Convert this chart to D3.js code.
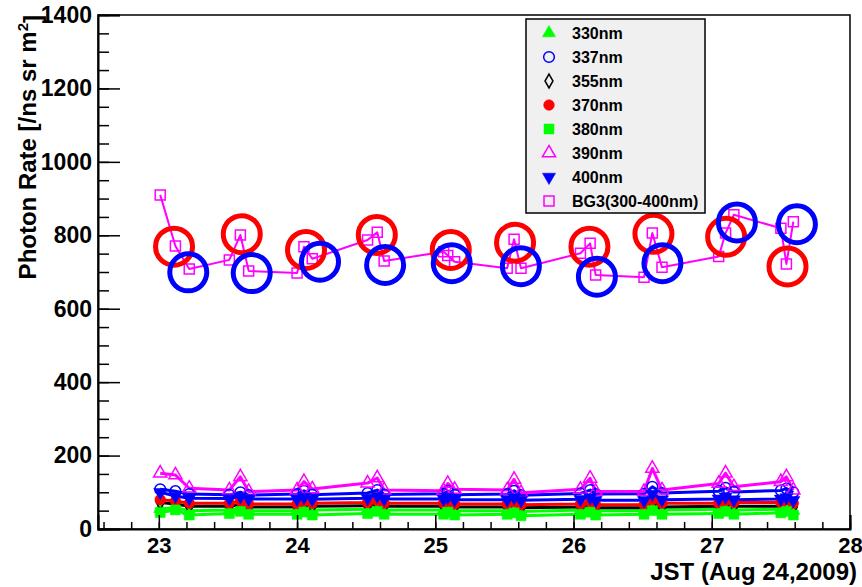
<!DOCTYPE html>
<html>
<head>
<meta charset="utf-8">
<script src="https://cdn.jsdelivr.net/npm/d3@7"></script>
<style>
  body { margin: 0; background: #fff; }
  text { font-family: "Liberation Sans", Arial, Helvetica, sans-serif; font-weight: bold; }
</style>
</head>
<body>
<div id="vis"></div>
<script>
const FRAME_WIDTH = 862;
const FRAME_HEIGHT = 587;
const MARGINS = {left: 98, right: 12, top: 15, bottom: 58};

const VIS_WIDTH = FRAME_WIDTH - MARGINS.left - MARGINS.right;
const VIS_HEIGHT = FRAME_HEIGHT - MARGINS.top - MARGINS.bottom;

// measurement times (hours JST)
const TIMES = [23.01, 23.12, 23.22, 23.51, 23.59, 23.65, 24.00, 24.05, 24.11, 24.51, 24.58, 24.63,
               25.06, 25.09, 25.14, 25.52, 25.57, 25.62, 26.05, 26.12, 26.16, 26.51, 26.57, 26.64,
               27.05, 27.10, 27.16, 27.50, 27.54, 27.59];

// photon rates for each filter
const NM330 = [55, 58, 50, 52, 56, 50, 50, 56, 52, 54, 58, 52, 52, 56, 50, 50, 54, 48, 52, 56, 50, 50, 62, 52, 54, 58, 52, 54, 58, 50];
const NM337 = [108, 103, 95, 93, 100, 92, 95, 104, 93, 98, 106, 94, 96, 103, 93, 95, 104, 92, 97, 106, 95, 96, 115, 98, 103, 112, 101, 105, 110, 100];
const NM355 = [72, 68, 62, 62, 66, 60, 60, 66, 62, 63, 68, 62, 62, 66, 60, 60, 64, 58, 60, 64, 58, 58, 70, 60, 62, 68, 62, 62, 68, 60];
const NM370 = [80, 76, 70, 70, 76, 68, 68, 76, 70, 72, 78, 70, 70, 76, 68, 68, 74, 66, 68, 74, 66, 66, 80, 70, 70, 78, 72, 72, 80, 70];
const NM380 = [45, 52, 38, 42, 48, 40, 40, 46, 38, 42, 48, 40, 40, 46, 38, 40, 44, 36, 40, 46, 38, 40, 50, 40, 42, 48, 40, 44, 48, 38];
const NM390 = [152, 147, 111, 106, 142, 102, 106, 129, 109, 125, 139, 106, 104, 124, 108, 106, 135, 99, 108, 138, 102, 102, 165, 106, 124, 152, 115, 129, 142, 106];
const NM400 = [100, 90, 84, 83, 88, 82, 82, 87, 81, 84, 90, 82, 82, 87, 80, 80, 86, 78, 81, 86, 78, 78, 95, 80, 82, 88, 80, 82, 86, 78];
const BG3 = [910, 771, 708, 733, 801, 703, 697, 769, 736, 787, 808, 730, 755, 745, 728,
             710, 789, 710, 751, 778, 692, 686, 806, 713, 742, 806, 856, 819, 722, 837];

// hand-drawn highlight circles (centres in data units)
const RED_X = [23.11, 23.60, 24.065, 24.577, 25.112, 25.577, 26.115, 26.578, 27.104, 27.548];
const RED_Y = [769, 803, 760, 801, 760, 780, 769, 804, 796, 715];
const BLUE_X = [23.213, 23.672, 24.166, 24.637, 25.119, 25.619, 26.169, 26.643, 27.182, 27.616];
const BLUE_Y = [699, 697, 728, 719, 724, 716, 687, 724, 835, 830];

const SERIES = [
  {name: "330nm", values: NM330, color: "#00ff00", shape: "triUp", open: false, lw: 3},
  {name: "337nm", values: NM337, color: "#0000ff", shape: "circle", open: true, lw: 3},
  {name: "355nm", values: NM355, color: "#000000", shape: "diamond", open: true, lw: 3},
  {name: "370nm", values: NM370, color: "#ff0000", shape: "circle", open: false, lw: 3},
  {name: "380nm", values: NM380, color: "#00ff00", shape: "square", open: false, lw: 3},
  {name: "390nm", values: NM390, color: "#ff00ff", shape: "triUp", open: true, lw: 3},
  {name: "400nm", values: NM400, color: "#0000ff", shape: "triDown", open: false, lw: 3},
  {name: "BG3(300-400nm)", values: BG3, color: "#ff00ff", shape: "square", open: true, lw: 2}
];

const SVG = d3.select("#vis")
  .append("svg")
    .attr("width", FRAME_WIDTH)
    .attr("height", FRAME_HEIGHT);

const X_SCALE = d3.scaleLinear()
  .domain([22.56, 28.0])
  .range([MARGINS.left, MARGINS.left + VIS_WIDTH]);

const Y_SCALE = d3.scaleLinear()
  .domain([0, 1400])
  .range([MARGINS.top + VIS_HEIGHT, MARGINS.top]);

function symbolPath(shape) {
  if (shape == "circle") return d3.symbol(d3.symbolCircle, 90)();
  if (shape == "square") return d3.symbol(d3.symbolSquare, 100)();
  if (shape == "diamond") return d3.symbol(d3.symbolDiamond, 55)();
  return d3.symbol(d3.symbolTriangle, 75)();
}

function drawMarker(g, s, x, y) {
  g.append("path")
    .attr("d", symbolPath(s.shape))
    .attr("transform", "translate(" + x + "," + y + ")" + (s.shape == "triDown" ? " rotate(180)" : ""))
    .attr("fill", s.open ? "none" : s.color)
    .attr("stroke", s.color)
    .attr("stroke-width", s.open ? 1.5 : 0.5);
}

// series lines and markers
const line = d3.line()
  .x((d, i) => X_SCALE(TIMES[i]))
  .y(d => Y_SCALE(d));

SERIES.forEach(s => {
  SVG.append("path")
    .datum(s.values)
    .attr("d", line)
    .attr("fill", "none")
    .attr("stroke", s.color)
    .attr("stroke-width", s.lw)
    .attr("stroke-linejoin", "round");
});

SERIES.forEach(s => {
  const g = SVG.append("g");
  s.values.forEach((v, i) => drawMarker(g, s, X_SCALE(TIMES[i]), Y_SCALE(v)));
});

// highlight circles
SVG.selectAll(".redc")
  .data(RED_X)
  .enter()
  .append("circle")
    .attr("cx", d => X_SCALE(d))
    .attr("cy", (d, i) => Y_SCALE(RED_Y[i]))
    .attr("r", 18.5)
    .attr("fill", "none")
    .attr("stroke", "#ff0000")
    .attr("stroke-width", 5);

SVG.selectAll(".bluec")
  .data(BLUE_X)
  .enter()
  .append("circle")
    .attr("cx", d => X_SCALE(d))
    .attr("cy", (d, i) => Y_SCALE(BLUE_Y[i]))
    .attr("r", 18.5)
    .attr("fill", "none")
    .attr("stroke", "#0000ff")
    .attr("stroke-width", 5);

// frame
SVG.append("rect")
  .attr("x", MARGINS.left)
  .attr("y", MARGINS.top)
  .attr("width", VIS_WIDTH)
  .attr("height", VIS_HEIGHT)
  .attr("fill", "none")
  .attr("stroke", "#000")
  .attr("stroke-width", 1.5);

// axes: major + minor ticks drawn inward
const xMinor = d3.range(22.6, 28.001, 0.2);
SVG.append("g")
  .attr("transform", "translate(0," + (MARGINS.top + VIS_HEIGHT) + ")")
  .call(d3.axisBottom(X_SCALE).tickValues(xMinor).tickSize(-7).tickFormat(""))
  .call(g => g.select(".domain").remove());

SVG.append("g")
  .attr("transform", "translate(0," + (MARGINS.top + VIS_HEIGHT) + ")")
  .call(d3.axisBottom(X_SCALE).tickValues([23, 24, 25, 26, 27, 28]).tickSize(-14).tickPadding(8).tickFormat(d3.format("d")))
  .attr("font-size", "22px")
  .attr("font-family", "Liberation Sans, Arial")
  .call(g => g.select(".domain").attr("stroke-width", 2));

SVG.append("g")
  .attr("transform", "translate(" + MARGINS.left + ",0)")
  .call(d3.axisLeft(Y_SCALE).tickValues(d3.range(0, 1401, 50)).tickSize(-11).tickFormat(""))
  .call(g => g.select(".domain").remove());

SVG.append("g")
  .attr("transform", "translate(" + MARGINS.left + ",0)")
  .call(d3.axisLeft(Y_SCALE).tickValues(d3.range(0, 1401, 200)).tickSize(-22).tickPadding(6).tickFormat(d3.format("d")))
  .attr("font-size", "23px")
  .attr("font-family", "Liberation Sans, Arial")
  .call(g => g.select(".domain").attr("stroke-width", 2));

SVG.selectAll(".tick line").attr("stroke-width", 1.5);
SVG.selectAll(".tick text").attr("fill", "#000").style("font-weight", "bold");

// axis titles
SVG.append("text")
  .attr("x", 857)
  .attr("y", 580)
  .attr("text-anchor", "end")
  .style("font-size", "24px")
  .text("JST (Aug 24,2009)");

const yTitle = SVG.append("text")
  .attr("transform", "translate(36," + MARGINS.top + ") rotate(-90)")
  .attr("text-anchor", "end")
  .style("font-size", "24px");
yTitle.append("tspan").text("Photon Rate [/ns sr m");
yTitle.append("tspan").attr("dy", "-0.55em").style("font-size", "15px").text("2");
yTitle.append("tspan").attr("dy", "0.55em").text("]");

// legend
const LEG = {x: 526, y: 19, w: 179, h: 194};
SVG.append("rect")
  .attr("x", LEG.x)
  .attr("y", LEG.y)
  .attr("width", LEG.w)
  .attr("height", LEG.h)
  .attr("fill", "#f0f0f0")
  .attr("stroke", "#000")
  .attr("stroke-width", 1.5);

SERIES.forEach((s, i) => {
  const yy = 33 + i * 24.0;
  drawMarker(SVG, s, 549, yy);
  SVG.append("text")
    .attr("x", 572)
    .attr("y", yy + 6)
    .style("font-size", "16px")
    .text(s.name);
});
</script>
</body>
</html>
